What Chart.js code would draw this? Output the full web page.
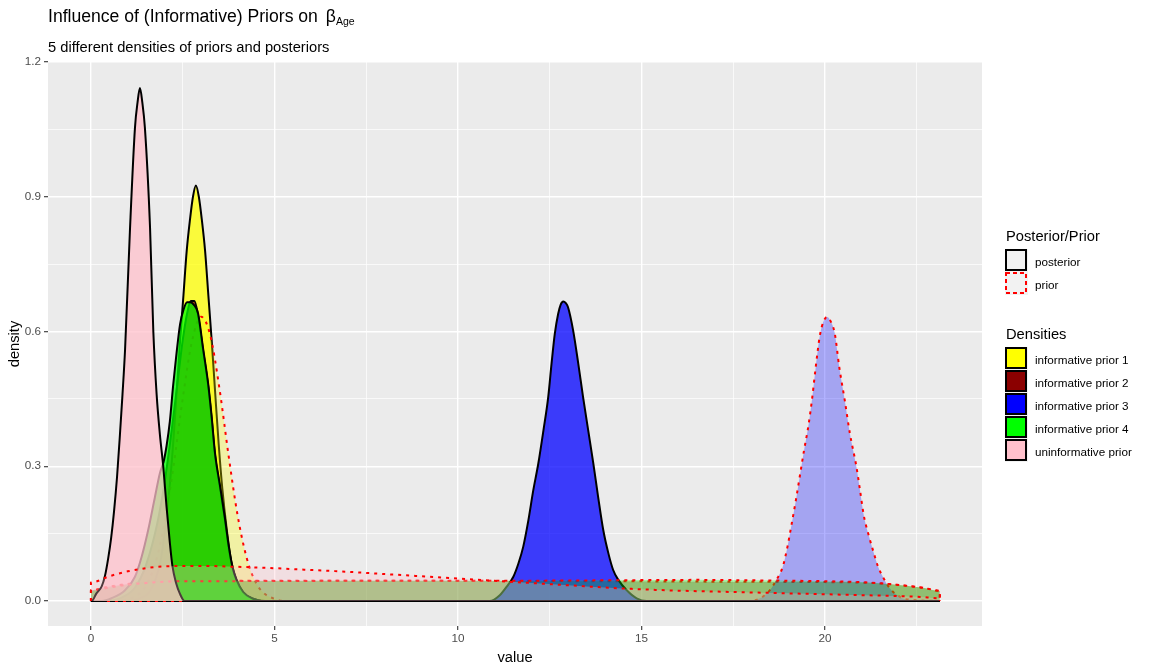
<!DOCTYPE html>
<html>
<head>
<meta charset="utf-8">
<script src="https://cdn.jsdelivr.net/npm/chart.js@4.4.0/dist/chart.umd.min.js"></script>
<style>
  body { margin: 0; background: #fff; font-family: "Liberation Sans", Arial, sans-serif; }
  #wrap { position: relative; width: 1152px; height: 672px; overflow: hidden; }
  #chart { position: absolute; left: 0; top: 0; }
  .txt { position: absolute; line-height: 1; white-space: nowrap; color: #000; }
  .title { left: 48px; top: 7.8px; font-size: 17.6px; }
  .title .beta { margin-left: 3px; }
  .title sub { font-size: 10.5px; vertical-align: -3.3px; line-height: 1; }
  .subtitle { left: 48px; top: 39.9px; font-size: 14.7px; }
  .ltitle { font-size: 14.7px; left: 1006px; }
  .llabel { font-size: 11.7px; left: 1035px; }
  .key { position: absolute; left: 1004.5px; width: 23px; height: 23px; background: #f2f2f2; }
  .key svg { position: absolute; left: 0.5px; top: 0.5px; }
</style>
</head>
<body>
<div id="wrap">
  <canvas id="chart" width="1152" height="672"></canvas>
  <div class="txt title">Influence of (Informative) Priors on <span class="beta">β</span><sub>Age</sub></div>
  <div class="txt subtitle">5 different densities of priors and posteriors</div>
  <div id="legend"></div>
</div>
<script>
// axis breaks
const xMajor = [0, 5, 10, 15, 20];
const xMinor = [2.5, 7.5, 12.5, 17.5, 22.5];
const yMajor = [0, 0.3, 0.6, 0.9, 1.2];
const yMinor = [0.15, 0.45, 0.75, 1.05];

// legend entries
const typeLabels = ['posterior', 'prior'];
const densityLabels = ['informative prior 1', 'informative prior 2', 'informative prior 3',
                       'informative prior 4', 'uninformative prior'];
const densityColours = ['255,255,0', '139,0,0', '0,0,255', '0,255,0', '255,192,203'];

// posteriors
const inf1PostX = [0, 0.97, 1.27, 1.57, 1.77, 1.9, 2.02, 2.14, 2.24, 2.34, 2.43, 2.52, 2.61, 2.70, 2.78, 2.86, 2.94, 3.02, 3.11, 3.20, 3.29, 3.38, 3.48, 3.58, 3.70, 3.82, 3.95, 4.15, 4.45, 4.75, 23.13];
const inf1PostY = [0, 0, 0.004, 0.018, 0.05, 0.09, 0.16, 0.25, 0.35, 0.47, 0.58, 0.68, 0.78, 0.85, 0.9, 0.925, 0.9, 0.85, 0.78, 0.68, 0.58, 0.47, 0.35, 0.25, 0.16, 0.09, 0.05, 0.018, 0.004, 0, 0];

const inf2PostX = [0, 0.5, 0.9, 1.2, 1.5, 1.8, 2.0, 2.2, 2.35, 2.5, 2.62, 2.72, 2.82, 2.92, 3.06, 3.2, 3.29, 3.38, 3.51, 3.65, 3.76, 3.86, 3.97, 4.15, 4.42, 4.65, 23.13];
const inf2PostY = [0, 0, 0.01, 0.03, 0.08, 0.17, 0.26, 0.38, 0.48, 0.58, 0.64, 0.668, 0.668, 0.635, 0.555, 0.475, 0.405, 0.325, 0.255, 0.18, 0.115, 0.072, 0.045, 0.019, 0.005, 0, 0];

const inf3PostX = [0, 10.87, 11.14, 11.33, 11.51, 11.65, 11.78, 11.92, 12.05, 12.19, 12.33, 12.46, 12.55, 12.64, 12.73, 12.80, 12.87, 12.94, 13.0, 13.14, 13.28, 13.41, 13.55, 13.69, 13.82, 13.96, 14.1, 14.23, 14.37, 14.6, 14.87, 15.14, 23.13];
const inf3PostY = [0, 0, 0.013, 0.032, 0.054, 0.084, 0.121, 0.18, 0.245, 0.306, 0.38, 0.454, 0.528, 0.595, 0.639, 0.66, 0.667, 0.663, 0.654, 0.602, 0.528, 0.454, 0.38, 0.306, 0.232, 0.158, 0.106, 0.069, 0.047, 0.024, 0.006, 0, 0];

const inf4PostX = [0, 0.3, 0.56, 0.93, 1.2, 1.38, 1.56, 1.74, 1.88, 1.98, 2.06, 2.15, 2.24, 2.33, 2.43, 2.52, 2.62, 2.70, 2.80, 2.92, 3.06, 3.20, 3.29, 3.38, 3.51, 3.65, 3.76, 3.86, 3.97, 4.15, 4.42, 4.65, 23.13];
const inf4PostY = [0, 0, 0.006, 0.024, 0.054, 0.098, 0.158, 0.23, 0.285, 0.31, 0.345, 0.40, 0.48, 0.55, 0.617, 0.648, 0.665, 0.665, 0.66, 0.64, 0.56, 0.48, 0.41, 0.33, 0.26, 0.185, 0.12, 0.075, 0.047, 0.02, 0.005, 0, 0];

const uninfPostX = [0, 0.02, 0.15, 0.29, 0.38, 0.47, 0.55, 0.63, 0.71, 0.79, 0.86, 0.93, 1.06, 1.2, 1.27, 1.335, 1.40, 1.47, 1.61, 1.70, 1.79, 1.88, 1.97, 2.06, 2.15, 2.22, 2.32, 2.42, 2.55, 23.13];
const uninfPostY = [0, 0, 0.017, 0.032, 0.055, 0.095, 0.14, 0.2, 0.275, 0.37, 0.46, 0.56, 0.82, 1.054, 1.11, 1.142, 1.11, 1.054, 0.832, 0.6, 0.46, 0.37, 0.30, 0.21, 0.13, 0.078, 0.04, 0.017, 0, 0];

// priors
const inf1PriorX = [0, 0.8, 1.0, 1.25, 1.5, 1.75, 2.0, 2.25, 2.5, 2.75, 3.0, 3.25, 3.5, 3.75, 4.0, 4.25, 4.5, 4.75, 5.0, 5.25, 23.13];
const inf1PriorY = [0, 0, 0.004, 0.012, 0.034, 0.083, 0.171, 0.30, 0.45, 0.577, 0.633, 0.592, 0.474, 0.324, 0.189, 0.094, 0.04, 0.015, 0.005, 0, 0];

const inf2PriorX = [0, 0, 0.5, 1.0, 1.5, 2.0, 2.5, 3, 5, 8, 11, 14, 17, 20, 21, 21.7, 22.2, 22.7, 23.13, 23.13];
const inf2PriorY = [0, 0.024, 0.032, 0.038, 0.042, 0.044, 0.045, 0.045, 0.045, 0.045, 0.0445, 0.044, 0.043, 0.042, 0.041, 0.038, 0.034, 0.029, 0.022, 0];

const inf3PriorX = [0, 17.9, 18.23, 18.5, 18.68, 18.85, 18.98, 19.09, 19.21, 19.32, 19.43, 19.55, 19.65, 19.75, 19.86, 19.96, 20.06, 20.16, 20.27, 20.39, 20.54, 20.68, 20.86, 20.95, 21.06, 21.18, 21.32, 21.45, 21.59, 21.75, 21.95, 22.2, 23.13];
const inf3PriorY = [0, 0, 0.006, 0.024, 0.047, 0.076, 0.121, 0.17, 0.225, 0.28, 0.335, 0.39, 0.45, 0.521, 0.59, 0.622, 0.632, 0.622, 0.595, 0.521, 0.447, 0.373, 0.298, 0.25, 0.19, 0.15, 0.11, 0.076, 0.052, 0.03, 0.014, 0.004, 0];

const inf4PriorX = [0, 0, 0.5, 1.0, 1.5, 2.0, 2.5, 3, 5, 8, 11, 14, 16.5, 18, 20, 21, 21.7, 22.2, 22.7, 23.13, 23.13];
const inf4PriorY = [0, 0.022, 0.030, 0.036, 0.040, 0.043, 0.044, 0.044, 0.0445, 0.045, 0.045, 0.046, 0.047, 0.046, 0.044, 0.042, 0.038, 0.034, 0.029, 0.023, 0];

const uninfPriorX = [0, 0, 0.5, 1, 1.5, 2, 3, 4, 5, 6, 7, 8, 9, 10, 11, 12, 13, 14, 15, 16, 17, 18, 19, 20, 21, 22, 22.6, 23.13, 23.13];
const uninfPriorY = [0, 0.041, 0.055, 0.066, 0.073, 0.077, 0.078, 0.076, 0.073, 0.069, 0.065, 0.060, 0.055, 0.050, 0.045, 0.040, 0.035, 0.030, 0.026, 0.023, 0.021, 0.019, 0.017, 0.015, 0.013, 0.011, 0.009, 0.006, 0];

const pts = (xs, ys) => xs.map((x, i) => ({ x, y: ys[i] }));

// drawn in ggplot's order: first in this list is painted first (at the bottom)
const curves = [
  [inf1PostX, inf1PostY, 0, 'posterior'], [inf1PriorX, inf1PriorY, 0, 'prior'],
  [inf2PostX, inf2PostY, 1, 'posterior'], [inf2PriorX, inf2PriorY, 1, 'prior'],
  [inf3PostX, inf3PostY, 2, 'posterior'], [inf3PriorX, inf3PriorY, 2, 'prior'],
  [inf4PostX, inf4PostY, 3, 'posterior'], [inf4PriorX, inf4PriorY, 3, 'prior'],
  [uninfPostX, uninfPostY, 4, 'posterior'], [uninfPriorX, uninfPriorY, 4, 'prior']
];

const datasets = curves.map(([xs, ys, g, kind], i) => {
  const isPost = kind === 'posterior';
  return {
    label: densityLabels[g] + ' ' + kind,
    data: pts(xs, ys),
    order: curves.length - i,
    fill: 'origin',
    backgroundColor: `rgba(${densityColours[g]},${isPost ? 0.75 : 0.3})`,
    borderColor: isPost ? '#000000' : '#ff0000',
    borderWidth: 2,
    borderDash: isPost ? [] : [3, 5],
    borderJoinStyle: 'round',
    pointRadius: 0,
    cubicInterpolationMode: 'monotone'
  };
});

const panelBg = {
  id: 'panelBg',
  beforeDraw(chart) {
    const { ctx, chartArea: a } = chart;
    ctx.save();
    ctx.fillStyle = '#ebebeb';
    ctx.fillRect(a.left, a.top, a.right - a.left, a.bottom - a.top);
    ctx.restore();
  }
};

const isMajor = (list, c) => c.tick && list.includes(c.tick.value);

Chart.defaults.font.family = '"Liberation Sans", Arial, sans-serif';

new Chart(document.getElementById('chart'), {
  type: 'line',
  data: { datasets },
  plugins: [panelBg],
  options: {
    responsive: false,
    animation: false,
    layout: { padding: { left: 0, top: 62, right: 170, bottom: 0 } },
    plugins: { legend: { display: false }, tooltip: { enabled: false } },
    scales: {
      x: {
        type: 'linear',
        min: -1.17,
        max: 24.28,
        afterBuildTicks: s => { s.ticks = xMajor.concat(xMinor).sort((a, b) => a - b).map(v => ({ value: v })); },
        afterFit: s => { s.height = 46; },
        border: { display: false },
        grid: {
          color: '#ffffff',
          lineWidth: c => isMajor(xMajor, c) ? 1.4 : 0.7,
          tickColor: c => isMajor(xMajor, c) ? '#333333' : 'rgba(0,0,0,0)',
          tickLength: 4,
          tickWidth: 1.1
        },
        ticks: {
          autoSkip: false, maxRotation: 0, padding: 2,
          color: '#4d4d4d', font: { size: 11.7 },
          callback: v => xMajor.includes(v) ? String(v) : ''
        },
        title: { display: true, text: 'value', color: '#000', font: { size: 14.7 }, padding: { top: 0, bottom: 5 } }
      },
      y: {
        type: 'linear',
        min: -0.0557,
        max: 1.2,
        afterBuildTicks: s => { s.ticks = yMajor.concat(yMinor).sort((a, b) => a - b).map(v => ({ value: v })); },
        afterFit: s => { s.width = 48; },
        border: { display: false },
        grid: {
          color: '#ffffff',
          lineWidth: c => isMajor(yMajor, c) ? 1.4 : 0.7,
          tickColor: c => isMajor(yMajor, c) ? '#333333' : 'rgba(0,0,0,0)',
          tickLength: 4,
          tickWidth: 1.1
        },
        ticks: {
          autoSkip: false, padding: 3,
          color: '#4d4d4d', font: { size: 11.7 },
          callback: v => yMajor.includes(v) ? v.toFixed(1) : ''
        },
        title: { display: true, text: 'density', color: '#000', font: { size: 14.7 }, padding: { top: 6, bottom: 0 } }
      }
    }
  }
});

// ggplot-like legend to the right of the panel
const legend = document.getElementById('legend');
function addText(cls, text, top) {
  const d = document.createElement('div');
  d.className = 'txt ' + cls;
  d.style.top = top + 'px';
  d.textContent = text;
  legend.appendChild(d);
}
function addKey(centre, fill, stroke, dash) {
  const k = document.createElement('div');
  k.className = 'key';
  k.style.top = (centre - 11.5) + 'px';
  k.innerHTML = `<svg width="22" height="22"><rect x="1" y="1" width="20" height="20" fill="${fill}" stroke="${stroke}" stroke-width="2"${dash ? ' stroke-dasharray="' + dash + '"' : ''}/></svg>`;
  legend.appendChild(k);
}
addText('ltitle', 'Posterior/Prior', 241 - 12.44);
typeLabels.forEach((t, i) => {
  const c = 260 + i * 23;
  addKey(c, 'none', i === 0 ? '#000' : '#ff0000', i === 0 ? '' : '4 3');
  addText('llabel', t, c + 6 - 9.9);
});
addText('ltitle', 'Densities', 339 - 12.44);
densityLabels.forEach((t, i) => {
  const c = 358 + i * 23;
  addKey(c, `rgb(${densityColours[i]})`, '#000', '');
  addText('llabel', t, c + 6 - 9.9);
});
</script>
</body>
</html>
